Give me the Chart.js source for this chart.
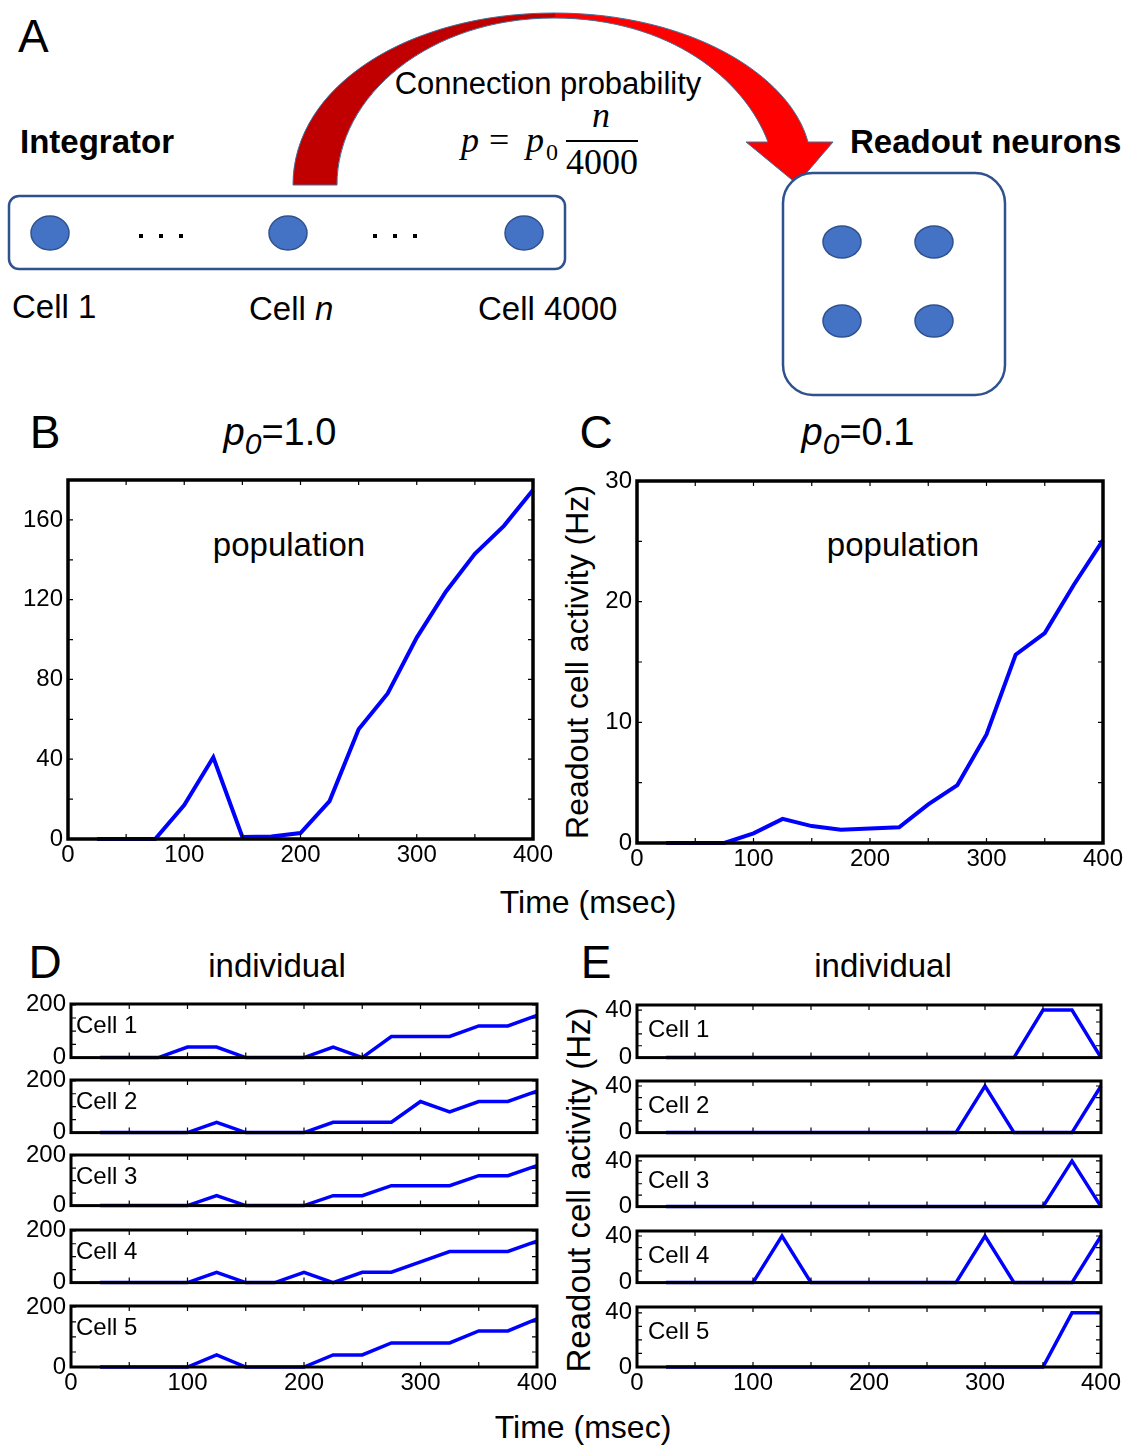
<!DOCTYPE html>
<html>
<head>
<meta charset="utf-8">
<script src="https://cdn.jsdelivr.net/npm/chart.js@4.4.0/dist/chart.umd.min.js"></script>
<style>
  body { margin: 0; background: #fff; width: 1130px; height: 1446px; position: relative; overflow: hidden;
         font-family: "Liberation Sans", Arial, sans-serif; color: #000; }
  .t { position: absolute; white-space: nowrap; transform: translate(-50%, -50%); line-height: 1; }
  .l { position: absolute; white-space: nowrap; line-height: 1; }
  canvas { position: absolute; }
</style>
</head>
<body>

<!-- panel A: schematic -->
<svg width="1130" height="400" style="position:absolute;left:0;top:0" font-family="Liberation Sans, Arial, sans-serif">
  <defs>
    <linearGradient id="arrowFill" gradientUnits="userSpaceOnUse" x1="293" y1="0" x2="833" y2="0">
      <stop offset="0" stop-color="#c00000"/>
      <stop offset="0.485" stop-color="#c00000"/>
      <stop offset="0.485" stop-color="#ff0000"/>
      <stop offset="1" stop-color="#ff0000"/>
    </linearGradient>
  </defs>
  <path d="M293 185 C293 85 410 13 554 13 C690 13 790 75 808 142 L833 142 L797 184 L746 142 L768 142 C745 80 670 18 554 18 C430 18 337 95 337 185 Z"
        fill="url(#arrowFill)" stroke="#41719c" stroke-width="1"/>
  <rect x="9" y="196" width="556" height="73" rx="10" fill="#fff" stroke="#2f528f" stroke-width="2.5"/>
  <g fill="#4472c4" stroke="#2f528f" stroke-width="1.5">
    <ellipse cx="50" cy="233" rx="19" ry="17"/>
    <ellipse cx="288" cy="233" rx="19" ry="17"/>
    <ellipse cx="524" cy="233" rx="19" ry="17"/>
  </g>
  <g fill="#000">
    <rect x="139" y="234" width="4" height="4"/><rect x="159" y="234" width="4" height="4"/><rect x="179" y="234" width="4" height="4"/>
    <rect x="373" y="234" width="4" height="4"/><rect x="393" y="234" width="4" height="4"/><rect x="413" y="234" width="4" height="4"/>
  </g>
  <rect x="783" y="173" width="222" height="222" rx="30" fill="#fff" stroke="#2f528f" stroke-width="2.5"/>
  <g fill="#4472c4" stroke="#2f528f" stroke-width="1.5">
    <ellipse cx="842" cy="242" rx="19" ry="16"/>
    <ellipse cx="934" cy="242" rx="19" ry="16"/>
    <ellipse cx="842" cy="321" rx="19" ry="16"/>
    <ellipse cx="934" cy="321" rx="19" ry="16"/>
  </g>
  <text x="18" y="52" font-size="46">A</text>
  <text x="20" y="153" font-size="33" font-weight="bold">Integrator</text>
  <text x="850" y="153" font-size="33" font-weight="bold">Readout neurons</text>
  <text x="548" y="94" font-size="31" text-anchor="middle">Connection probability</text>
  <g font-family="Liberation Serif, Times New Roman, serif" font-size="36">
    <text x="461" y="152" font-style="italic">p</text>
    <text x="489" y="152">=</text>
    <text x="526" y="152" font-style="italic">p</text>
    <text x="546" y="160" font-size="24">0</text>
    <text x="601" y="127" font-style="italic" text-anchor="middle">n</text>
    <text x="602" y="174" text-anchor="middle">4000</text>
  </g>
  <line x1="566" y1="141" x2="638" y2="141" stroke="#000" stroke-width="2"/>
  <text x="12" y="318" font-size="33">Cell 1</text>
  <text x="249" y="320" font-size="33">Cell <tspan font-style="italic">n</tspan></text>
  <text x="478" y="320" font-size="33">Cell 4000</text>
</svg>

<!-- titles and labels -->
<div class="t" style="left:45px;top:432px;font-size:46px">B</div>
<div class="t" style="left:596px;top:432px;font-size:46px">C</div>
<div class="t" style="left:45px;top:962px;font-size:46px">D</div>
<div class="t" style="left:596px;top:962px;font-size:46px">E</div>
<div class="t" style="left:280px;top:436px;font-size:38px"><i>p<sub style="font-size:30px">0</sub></i>=1.0</div>
<div class="t" style="left:858px;top:436px;font-size:38px"><i>p<sub style="font-size:30px">0</sub></i>=0.1</div>
<div class="t" style="left:289px;top:544px;font-size:33px">population</div>
<div class="t" style="left:903px;top:544px;font-size:33px">population</div>
<div class="t" style="left:277px;top:965px;font-size:33px">individual</div>
<div class="t" style="left:883px;top:965px;font-size:33px">individual</div>
<div class="t" style="left:588px;top:902px;font-size:32px">Time (msec)</div>
<div class="t" style="left:583px;top:1427px;font-size:32px">Time (msec)</div>
<div class="t" style="left:577px;top:662px;font-size:32px;transform:translate(-50%,-50%) rotate(-90deg)">Readout cell activity (Hz)</div>
<div class="t" style="left:578px;top:1190px;font-size:33px;transform:translate(-50%,-50%) rotate(-90deg)">Readout cell activity (Hz)</div>

<script>
// time bins (msec)
const times = [25, 50, 75, 100, 125, 150, 175, 200, 225, 250, 275, 300, 325, 350, 375, 400];

// population activity (Hz)
const popB = [0, 0, 0, 17, 41, 1, 1.3, 3, 19, 55, 73, 101, 124, 143, 157, 175];
const popC = [0, 0, 0, 0.8, 2.0, 1.4, 1.1, 1.2, 1.3, 3.2, 4.8, 9.0, 15.6, 17.4, 21.4, 25.1];

// individual cells, p0 = 1.0
const d1 = [0, 0, 0, 40, 40, 0, 0, 0, 40, 0, 80, 80, 80, 120, 120, 160];
const d2 = [0, 0, 0, 0, 40, 0, 0, 0, 40, 40, 40, 120, 80, 120, 120, 160];
const d3 = [0, 0, 0, 0, 40, 0, 0, 0, 40, 40, 80, 80, 80, 120, 120, 160];
const d4 = [0, 0, 0, 0, 40, 0, 0, 40, 0, 40, 40, 80, 120, 120, 120, 160];
const d5 = [0, 0, 0, 0, 40, 0, 0, 0, 40, 40, 80, 80, 80, 120, 120, 160];

// individual cells, p0 = 0.1
const e1 = [0, 0, 0, 0, 0, 0, 0, 0, 0, 0, 0, 0, 0, 40, 40, 0];
const e2 = [0, 0, 0, 0, 0, 0, 0, 0, 0, 0, 0, 40, 0, 0, 0, 40];
const e3 = [0, 0, 0, 0, 0, 0, 0, 0, 0, 0, 0, 0, 0, 0, 40, 0];
const e4 = [0, 0, 0, 0, 40, 0, 0, 0, 0, 0, 0, 40, 0, 0, 0, 40];
const e5 = [0, 0, 0, 0, 0, 0, 0, 0, 0, 0, 0, 0, 0, 0, 40, 40];

// tick labels
const xLabels = [0, 100, 200, 300, 400];
const yLabelsB = [0, 40, 80, 120, 160];
const yLabelsC = [0, 10, 20, 30];
const yLabelsD = [0, 200];
const yLabelsE = [0, 40];

Chart.defaults.font.family = '"Liberation Sans", Arial, sans-serif';
Chart.defaults.color = '#000';

// black box round the plot with inward tick marks (matlab look)
const framePlugin = {
  id: 'frame',
  afterDatasetsDraw(chart, args, opts) {
    const { ctx, chartArea: a, scales: { x, y } } = chart;
    const tl = 5;
    ctx.save();
    ctx.strokeStyle = '#000';
    ctx.lineWidth = 1.2;
    ctx.beginPath();
    x.ticks.forEach(t => {
      const px = x.getPixelForValue(t.value);
      ctx.moveTo(px, a.bottom); ctx.lineTo(px, a.bottom - tl);
      ctx.moveTo(px, a.top); ctx.lineTo(px, a.top + tl);
    });
    y.ticks.forEach(t => {
      const py = y.getPixelForValue(t.value);
      ctx.moveTo(a.left, py); ctx.lineTo(a.left + tl, py);
      ctx.moveTo(a.right, py); ctx.lineTo(a.right - tl, py);
    });
    ctx.stroke();
    ctx.lineWidth = opts.width || 3;
    ctx.strokeRect(a.left, a.top, a.right - a.left, a.bottom - a.top);
    ctx.restore();
  }
};

// canvas = [left, top, width, height], area = [left, top, right, bottom] of the plot box
function plot(cfg) {
  const [cl, ct, cw, ch] = cfg.canvas;
  const [al, at, ar, ab] = cfg.area;
  const cv = document.createElement('canvas');
  cv.width = cw; cv.height = ch;
  cv.style.left = cl + 'px'; cv.style.top = ct + 'px';
  cv.style.width = cw + 'px'; cv.style.height = ch + 'px';
  document.body.appendChild(cv);

  return new Chart(cv, {
    type: 'line',
    data: {
      datasets: [{
        data: times.map((t, i) => ({ x: t, y: cfg.values[i] })),
        borderColor: '#0000ff',
        borderWidth: cfg.lw,
        pointRadius: 0,
        tension: 0,
        clip: false
      }]
    },
    options: {
      responsive: false,
      animation: false,
      events: [],
      layout: { padding: { left: 0, top: at - ct, right: cl + cw - ar, bottom: 0 } },
      plugins: { legend: { display: false }, tooltip: { enabled: false }, frame: { width: cfg.fw } },
      scales: {
        x: {
          type: 'linear', min: 0, max: 400,
          grid: { display: false, drawTicks: false },
          border: { display: false },
          ticks: {
            display: cfg.showX, stepSize: 50, autoSkip: false, maxRotation: 0, padding: 2,
            includeBounds: false,
            font: { size: 24 },
            callback: v => xLabels.includes(v) ? String(v) : ''
          },
          afterFit: s => { s.height = ct + ch - ab; }
        },
        y: {
          type: 'linear', min: 0, max: cfg.ymax,
          grid: { display: false, drawTicks: false },
          border: { display: false },
          ticks: {
            stepSize: cfg.ystep, autoSkip: false, padding: 5,
            includeBounds: false,
            font: { size: 24 },
            callback: v => cfg.ylabels.includes(v) ? String(v) : ''
          },
          afterFit: s => { s.width = al - cl; }
        }
      }
    },
    plugins: [framePlugin]
  });
}

function label(text, left, top) {
  const d = document.createElement('div');
  d.className = 'l';
  d.style.cssText = `left:${left}px;top:${top}px;font-size:24px`;
  d.textContent = text;
  document.body.appendChild(d);
}

// B and C
plot({ canvas: [0, 450, 575, 440], area: [68, 480, 533, 839], values: popB, ymax: 180, ystep: 20,
       ylabels: yLabelsB, showX: true, lw: 4, fw: 3.5 });
plot({ canvas: [590, 450, 540, 440], area: [637, 481, 1103, 843], values: popC, ymax: 30, ystep: 5,
       ylabels: yLabelsC, showX: true, lw: 4, fw: 3.5 });

// D and E
const dCells = [d1, d2, d3, d4, d5];
const eCells = [e1, e2, e3, e4, e5];
const dTops = [1004, 1080, 1155, 1230, 1306];
const dBots = [1067, 1142, 1215, 1292, 1367];
const eTops = [1005, 1081, 1156, 1231, 1307];
const eBots = [1067, 1142, 1216, 1292, 1367];

dCells.forEach((vals, i) => {
  const last = i === dCells.length - 1;
  const ct = dTops[i] - 20;
  const ch = dBots[i] + (last ? 45 : 10) - ct;
  plot({ canvas: [0, ct, 575, ch], area: [71, dTops[i], 537, dBots[i]], values: vals, ymax: 203, ystep: 50,
         ylabels: yLabelsD, showX: last, lw: 3.5, fw: 3 });
  label('Cell ' + (i + 1), 76, dTops[i] + 9);
});

eCells.forEach((vals, i) => {
  const last = i === eCells.length - 1;
  const ct = eTops[i] - 20;
  const ch = eBots[i] + (last ? 45 : 10) - ct;
  plot({ canvas: [590, ct, 540, ch], area: [637, eTops[i], 1101, eBots[i]], values: vals, ymax: 44.3, ystep: 10,
         ylabels: yLabelsE, showX: last, lw: 3.5, fw: 3 });
  label('Cell ' + (i + 1), 648, eTops[i] + 12);
});
</script>
</body>
</html>
